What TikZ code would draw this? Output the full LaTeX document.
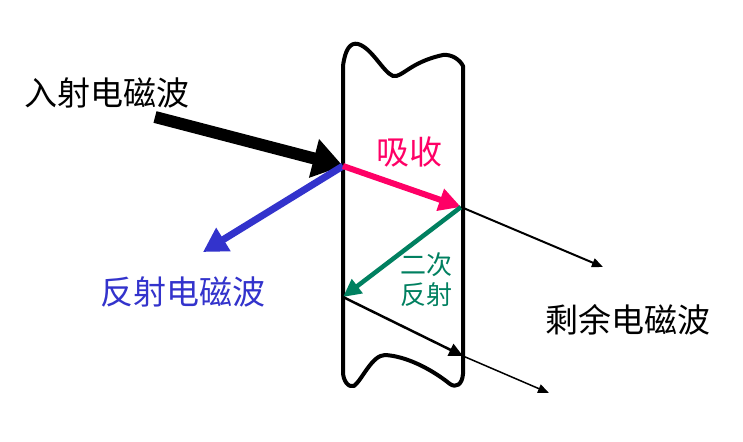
\documentclass[tikz,border=0pt]{standalone}
\usepackage{fontspec}
\newfontfamily\cjk{Noto Sans CJK SC}
\usetikzlibrary{arrows.meta}
\definecolor{myblue}{RGB}{51,51,204}
\definecolor{mypink}{RGB}{255,0,102}
\definecolor{mygreen}{RGB}{0,128,96}
\begin{document}
\begin{tikzpicture}[x=1pt,y=-1pt,
  lbl/.style={font=\cjk\fontsize{33}{37}\selectfont, inner sep=0pt},
  slabline/.style={line width=4pt, line join=round, line cap=round},
  thinarrow/.style={line width=2pt, -{Triangle[length=11pt,width=9pt]}}]
\useasboundingbox (0,0) rectangle (743,441);
\fill[white] (0,0) rectangle (743,441);
% slab
\draw[slabline] (343,372) -- (343,66) .. controls (345,50) and (350,42) .. (358,44)
  .. controls (372,48) and (383,72) .. (393,76)
  .. controls (402,78) and (410,62) .. (443,55)
  .. controls (452,54) and (460,60) .. (463,66) -- (463,374)
  .. controls (462,385) and (456,388) .. (450,384)
  .. controls (430,368) and (405,356) .. (385,355)
  .. controls (372,355) and (362,380) .. (354,386)
  .. controls (348,388) and (343,380) .. (343,372);
% coordinates
\coordinate (P1) at (343,166);
\coordinate (P2) at (461,207);
\coordinate (P3) at (343,297);
\coordinate (P4) at (463,356);
\coordinate (S) at (155,117);
\coordinate (R) at (203,252);
\coordinate (T1) at (603,267);
\coordinate (T2) at (549,393);
% arrows
\draw[line width=12pt, -{Triangle[length=30pt,width=38pt]}] (S) -- (P1);
\draw[myblue, line width=7pt, -{Triangle[length=24pt,width=26pt]}] (P1) -- (R);
\draw[mypink, line width=6pt, -{Triangle[length=22pt,width=22pt]}] (P1) -- (P2);
\draw[mygreen, line width=4.5pt, -{Triangle[length=18pt,width=17pt]}] (P2) -- (P3);
\draw[thinarrow] (P2) -- (T1);
\draw[line width=2.5pt, -{Triangle[length=14pt,width=13pt]}] (P3) -- (P4);
\draw[line width=1.5pt, -{Triangle[length=11pt,width=9pt]}] (P4) -- (T2);
% labels
\node[lbl, anchor=west] (inc) at (24,93) {入射电磁波};
\node[lbl, anchor=west, text=myblue] (refl) at (100,292) {反射电磁波};
\node[lbl, anchor=west, text=mypink] (abs) at (376,152) {吸收};
\node[lbl, anchor=west] (rem) at (545,320) {剩余电磁波};
\node[font=\cjk\fontsize{26}{30}\selectfont, text=mygreen, align=center, inner sep=0pt] (sec) at (426,280) {二次\\反射};
\end{tikzpicture}
\end{document}
